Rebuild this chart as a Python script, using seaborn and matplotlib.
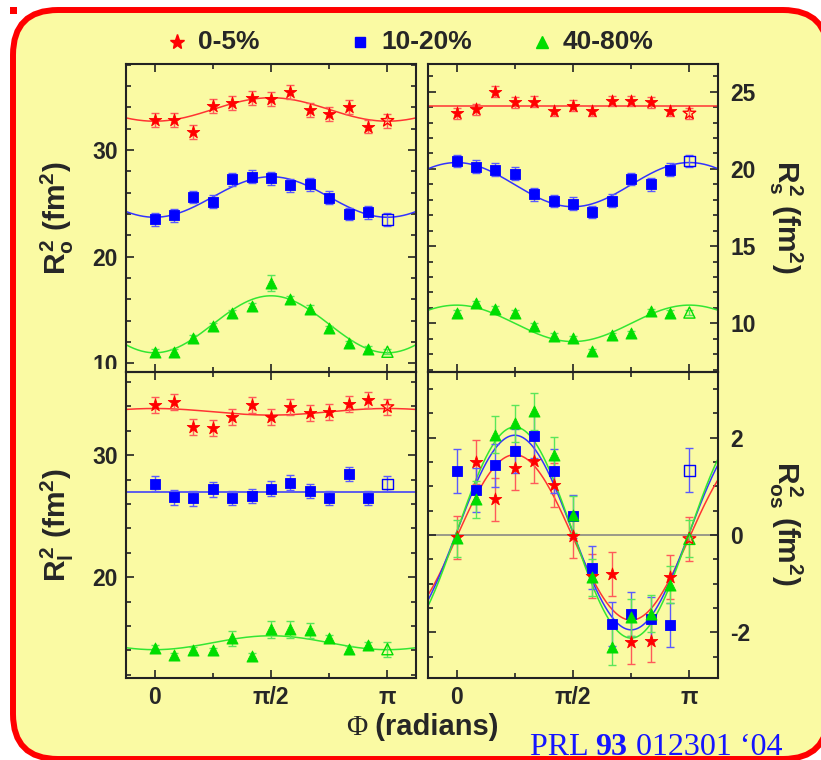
import numpy as np
import matplotlib
matplotlib.use("Agg")
import matplotlib.pyplot as plt
import seaborn as sns
from matplotlib.patches import FancyBboxPatch, Rectangle
from matplotlib.lines import Line2D
from matplotlib.offsetbox import TextArea, HPacker, AnchoredOffsetbox
from matplotlib.transforms import Bbox, TransformedBbox

# ---------------------------------------------------------------- data
# reaction-plane angle bins; the last bin (pi) repeats the first one
PHI = np.pi * np.array([0, 1, 2, 3, 4, 5, 6, 7, 8, 9, 10, 11, 12]) / 12

CENTRALITY = ["0-5%", "10-20%", "40-80%"]
MARKERS = ["*", "s", "^"]
COLORS = ["#ff0000", "#0000ff", "#00dd00"]
BAR_COLORS = ["#ff5a5a", "#5a5aff", "#5ae65a"]
FIT_COLORS = ["#ff3333", "#3333ff", "#33e633"]

# R_o^2 (fm^2)
RO2_0_5 = [32.8, 32.8, 31.7, 34.1, 34.4, 34.9, 34.75, 35.4, 33.75, 33.4, 34.05, 32.2, 32.75]
RO2_10_20 = [23.5, 23.9, 25.6, 25.15, 27.25, 27.5, 27.35, 26.7, 26.8, 25.55, 24.0, 24.15, 23.5]
RO2_40_80 = [11.1, 11.1, 12.4, 13.5, 14.7, 15.4, 17.55, 16.05, 15.15, 13.3, 11.9, 11.4, 11.1]
RO2_ERR_0_5 = 0.65
RO2_ERR_10_20 = 0.6
RO2_ERR_40_80 = [0.25, 0.25, 0.25, 0.25, 0.3, 0.3, 0.75, 0.3, 0.3, 0.25, 0.25, 0.25, 0.25]
RO2_FIT_MEAN = [33.8, 25.6, 13.67]
RO2_FIT_COS = [-1.1, -1.9, -2.67]

# R_s^2 (fm^2)
RS2_0_5 = [23.6, 23.85, 25.0, 24.3, 24.35, 23.75, 24.1, 23.75, 24.4, 24.4, 24.3, 23.75, 23.6]
RS2_10_20 = [20.5, 20.15, 19.95, 19.7, 18.35, 17.9, 17.75, 17.2, 17.95, 19.35, 19.0, 19.95, 20.5]
RS2_40_80 = [10.7, 11.3, 10.95, 10.7, 9.85, 9.2, 9.05, 8.2, 9.25, 9.35, 10.8, 10.7, 10.7]
RS2_ERR_0_5 = 0.35
RS2_ERR_10_20 = 0.4
RS2_ERR_40_80 = 0.15
RS2_FIT_MEAN = [24.1, 18.98, 10.0]
RS2_FIT_COS = [0.0, 1.43, 1.18]

# R_l^2 (fm^2)
RL2_0_5 = [34.1, 34.35, 32.3, 32.2, 33.1, 34.1, 33.1, 33.95, 33.45, 33.55, 34.2, 34.5, 33.95]
RL2_10_20 = [27.65, 26.55, 26.45, 27.2, 26.5, 26.65, 27.25, 27.75, 27.05, 26.5, 28.45, 26.5, 27.65]
RL2_40_80 = [14.2, 13.6, 14.05, 14.0, 15.0, 13.55, 15.75, 15.75, 15.65, 15.0, 14.1, 14.45, 14.1]
RL2_ERR_0_5 = 0.65
RL2_ERR_10_20 = 0.6
RL2_ERR_40_80 = [0.25, 0.2, 0.2, 0.2, 0.6, 0.2, 0.7, 0.7, 0.6, 0.25, 0.25, 0.25, 0.6]
RL2_FIT_MEAN = [33.55, 26.97, 14.63]
RL2_FIT_COS = [0.27, 0.0, -0.57]

# R_os^2 (fm^2)
ROS2_0_5 = [-0.05, 1.5, 0.73, 1.38, 1.52, 1.02, -0.02, -0.85, -0.81, -2.2, -2.17, -0.87, -0.08]
ROS2_10_20 = [1.32, 0.92, 1.43, 1.73, 2.04, 1.32, 0.38, -0.67, -1.83, -1.63, -1.73, -1.85, 1.33]
ROS2_40_80 = [-0.07, 0.73, 2.06, 2.3, 2.54, 1.64, 0.42, -0.87, -2.3, -1.69, -1.62, -1.02, -0.08]
ROS2_ERR_0_5 = 0.45
ROS2_ERR_10_20 = 0.45
ROS2_ERR_40_80 = 0.38
ROS2_FIT_MEAN = [-0.05, 0.05, 0.05]
ROS2_FIT_SIN = [1.7, 2.0, 2.17]

PHI_TICKS = [0, np.pi / 2, np.pi]
PHI_TICK_LABELS = ["0", "π/2", "π"]

# ---------------------------------------------------------------- style
sns.set_style("ticks")
plt.rcParams.update({
    "font.family": ["Liberation Sans", "DejaVu Sans"],
    "font.weight": "bold",
    "mathtext.fontset": "custom",
    "mathtext.rm": "Liberation Sans:bold",
    "mathtext.bf": "Liberation Sans:bold",
    "mathtext.it": "Liberation Sans:bold",
    "mathtext.sf": "Liberation Sans:bold",
    "axes.linewidth": 1.5,
    "axes.edgecolor": "#222222",
    "axes.unicode_minus": False,
})

W, H = 821, 760
BG = "#fafaa3"
fig = plt.figure(figsize=(W / 100, H / 100), dpi=100)
fig.patch.set_facecolor("white")

# rounded yellow panel with red frame (inch coordinates keep corners round)
frame = FancyBboxPatch((0.13, 0.01), 8.15, 7.49,
                       boxstyle="round,pad=0,rounding_size=0.45",
                       transform=fig.dpi_scale_trans, facecolor=BG,
                       edgecolor="#ff0000", linewidth=4.3, zorder=-10)
fig.add_artist(frame)
fig.add_artist(Rectangle((0.10, (H - 14) / 100), 0.065, 0.065,
                         transform=fig.dpi_scale_trans, facecolor="#ff0000",
                         edgecolor="none", zorder=-9))

XLIM = (-0.385, 3.527)
GRID = np.linspace(XLIM[0], XLIM[1], 300)


def add_axes(col, row):
    x0 = [126, 428][col]
    top = [64, 372][row]
    bot = [372, 678][row]
    return fig.add_axes([x0 / W, 1 - bot / H, 290 / W, (bot - top) / H])


def draw_series(ax, values, errs, fit, idx):
    vals = np.asarray(values, dtype=float)
    ax.errorbar(PHI, vals, yerr=errs, fmt="none", ecolor=BAR_COLORS[idx],
                elinewidth=1.0, capsize=3, capthick=1.0, zorder=2)
    sizes = [90, 58, 64]
    sns.scatterplot(x=PHI[:-1], y=vals[:-1], marker=MARKERS[idx], s=sizes[idx],
                    color=COLORS[idx], edgecolor=COLORS[idx], linewidth=0.6,
                    ax=ax, zorder=3, legend=False)
    ax.scatter(PHI[-1:], vals[-1:], marker=MARKERS[idx], s=sizes[idx],
               facecolors="none", edgecolors=COLORS[idx], linewidths=1.0, zorder=3)
    sns.lineplot(x=GRID, y=fit, color=FIT_COLORS[idx], lw=1.1, ax=ax, zorder=1,
                 sort=False, estimator=None)


def style_axes(ax, ylim, major, minor, left_side, bottom_row):
    ax.set_facecolor("none")
    ax.set_xlim(*XLIM)
    ax.set_ylim(*ylim)
    ax.set_xticks(PHI_TICKS)
    ax.set_xticks([np.pi / 4, 3 * np.pi / 4], minor=True)
    ax.set_yticks(major)
    ax.set_yticks(minor, minor=True)
    ax.set_xticklabels(PHI_TICK_LABELS if bottom_row else [])
    ax.tick_params(which="both", direction="in", top=True, right=True,
                   left=True, bottom=True, color="#222222", width=1.2,
                   labelsize=16.5, labelleft=left_side, labelright=not left_side,
                   labelbottom=bottom_row)
    ax.tick_params(which="major", length=6)
    ax.tick_params(which="minor", length=3.5)
    ax.tick_params(axis="y", pad=6 if left_side else 9)
    ax.tick_params(axis="x", pad=6)
    for lab in ax.get_xticklabels() + ax.get_yticklabels():
        lab.set_fontweight("bold")
    ax.set_xlabel("")
    ax.set_ylabel("")


def cos_fit(mean, amp):
    return mean + amp * np.cos(2 * GRID)


# ---------------------------------------------------------------- panels
ax_o = add_axes(0, 0)
for i, (vals, err) in enumerate(zip([RO2_0_5, RO2_10_20, RO2_40_80],
                                    [RO2_ERR_0_5, RO2_ERR_10_20, RO2_ERR_40_80])):
    draw_series(ax_o, vals, err, cos_fit(RO2_FIT_MEAN[i], RO2_FIT_COS[i]), i)
style_axes(ax_o, (9.2, 38.06), [10, 20, 30], np.arange(10, 38.1, 2), True, False)

ax_s = add_axes(1, 0)
for i, (vals, err) in enumerate(zip([RS2_0_5, RS2_10_20, RS2_40_80],
                                    [RS2_ERR_0_5, RS2_ERR_10_20, RS2_ERR_40_80])):
    draw_series(ax_s, vals, err, cos_fit(RS2_FIT_MEAN[i], RS2_FIT_COS[i]), i)
style_axes(ax_s, (6.85, 26.79), [10, 15, 20, 25], np.arange(7, 26.9, 1), False, False)

ax_l = add_axes(0, 1)
for i, (vals, err) in enumerate(zip([RL2_0_5, RL2_10_20, RL2_40_80],
                                    [RL2_ERR_0_5, RL2_ERR_10_20, RL2_ERR_40_80])):
    draw_series(ax_l, vals, err, cos_fit(RL2_FIT_MEAN[i], RL2_FIT_COS[i]), i)
style_axes(ax_l, (11.74, 36.81), [20, 30], np.arange(12, 36.9, 2), True, True)

ax_os = add_axes(1, 1)
ax_os.axhline(0, color="#808080", lw=1.1, zorder=0)
for i, (vals, err) in enumerate(zip([ROS2_0_5, ROS2_10_20, ROS2_40_80],
                                    [ROS2_ERR_0_5, ROS2_ERR_10_20, ROS2_ERR_40_80])):
    fit = ROS2_FIT_MEAN[i] + ROS2_FIT_SIN[i] * np.sin(2 * GRID)
    draw_series(ax_os, vals, err, fit, i)
style_axes(ax_os, (-2.94, 3.35), [-2, 0, 2], np.arange(-2.5, 3.4, 0.5), False, True)

# lower pads hide the part of the R_o tick labels that runs below the row split
clip = TransformedBbox(Bbox([[0, 1 - 369 / H], [1, 1]]), fig.transFigure)
for tick in ax_o.yaxis.get_major_ticks():
    tick.label1.set_clip_box(clip)
    tick.label1.set_clip_on(True)

# ---------------------------------------------------------------- labels
YLAB = 21.5
fig.text(57 / W, 1 - 218 / H, r"$R^{2}_{o}$ (fm$^{2}$)", rotation=90,
         ha="center", va="center", fontsize=YLAB, fontweight="bold")
fig.text(57 / W, 1 - 525 / H, r"$R^{2}_{l}$ (fm$^{2}$)", rotation=90,
         ha="center", va="center", fontsize=YLAB, fontweight="bold")
fig.text(786 / W, 1 - 217 / H, r"$R^{2}_{s}$ (fm$^{2}$)", rotation=270,
         ha="center", va="center", fontsize=YLAB, fontweight="bold")
fig.text(786 / W, 1 - 523 / H, r"$R^{2}_{os}$ (fm$^{2}$)", rotation=270,
         ha="center", va="center", fontsize=YLAB, fontweight="bold")

xlab = HPacker(children=[
    TextArea("Φ", textprops=dict(fontsize=21, fontfamily="Liberation Serif",
                                  fontweight="normal")),
    TextArea(" (radians)", textprops=dict(fontsize=21, fontweight="bold")),
], align="baseline", pad=0, sep=0)
fig.add_artist(AnchoredOffsetbox(loc="center", child=xlab, frameon=False, pad=0,
                                 borderpad=0, bbox_to_anchor=(422 / W, 1 - 727 / H),
                                 bbox_transform=fig.transFigure))

# legend keys along the top
LEG_X = [177, 360, 542]
LEG_MS = [11, 7, 8]
for i, name in enumerate(CENTRALITY):
    fig.add_artist(Line2D([LEG_X[i] / W], [1 - 42 / H], marker=MARKERS[i],
                          markersize=LEG_MS[i], color=COLORS[i], linestyle="none",
                          transform=fig.transFigure))
    fig.text((LEG_X[i] + 21) / W, 1 - 42 / H, name, ha="left", va="center",
             fontsize=19, fontweight="bold")

# journal reference
serif = dict(fontsize=23, fontfamily="Liberation Serif", color="#1515ff")
ref = HPacker(children=[
    TextArea("PRL ", textprops=dict(serif, fontweight="normal")),
    TextArea("93", textprops=dict(serif, fontweight="bold")),
    TextArea(" 012301 \u201804", textprops=dict(serif, fontweight="normal")),
], align="baseline", pad=0, sep=0)
fig.add_artist(AnchoredOffsetbox(loc="lower left", child=ref, frameon=False, pad=0,
                                 borderpad=0, bbox_to_anchor=(530 / W, -0.002),
                                 bbox_transform=fig.transFigure))

fig.savefig("out.png", dpi=100, facecolor="white")
